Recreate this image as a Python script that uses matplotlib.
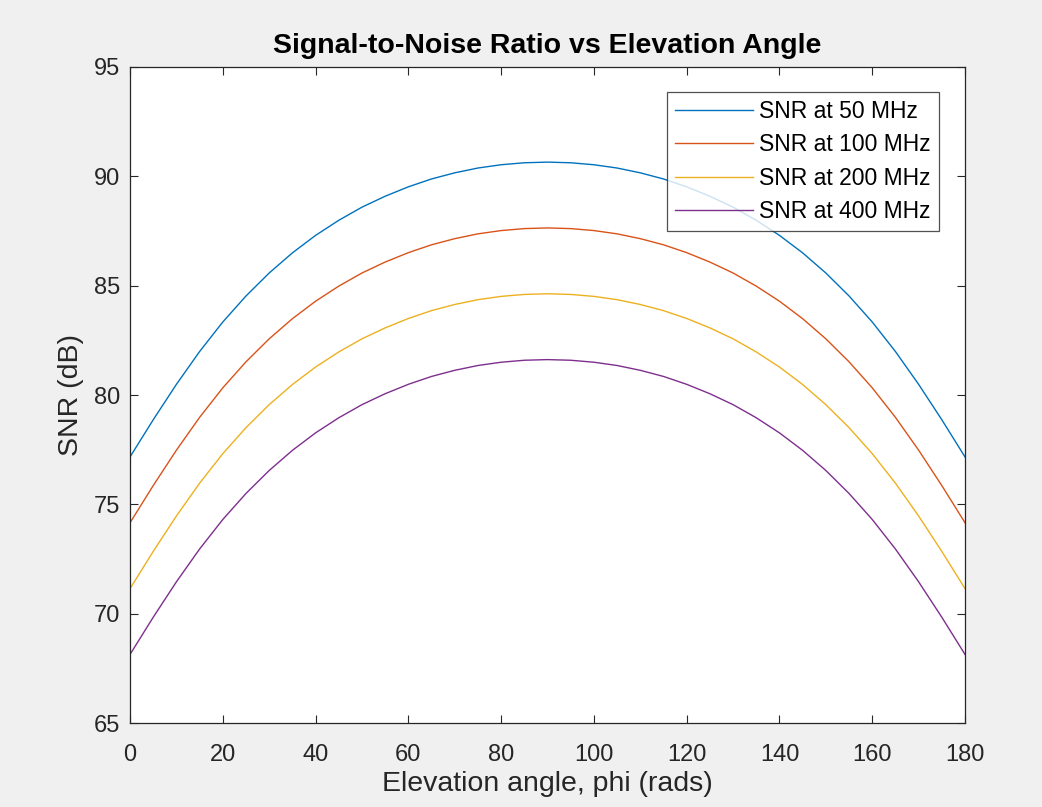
import numpy as np
import matplotlib
matplotlib.use("Agg")
import matplotlib.pyplot as plt

plt.rcParams['font.family'] = ['Liberation Sans', 'DejaVu Sans']

# Elevation angle samples (degrees)
phi = list(range(0, 181, 5))

# SNR (dB) for each carrier frequency
snr_50 = [77.17, 78.87, 80.49, 81.99, 83.34, 84.53, 85.58, 86.50, 87.30, 87.99,
          88.59, 89.09, 89.52, 89.88, 90.16, 90.38, 90.53, 90.62, 90.65,
          90.62, 90.53, 90.38, 90.16, 89.88, 89.52, 89.09, 88.59, 87.99, 87.30,
          86.50, 85.58, 84.53, 83.34, 81.99, 80.49, 78.87, 77.17]
snr_100 = [74.16, 75.86, 77.48, 78.98, 80.33, 81.52, 82.57, 83.49, 84.29, 84.98,
           85.58, 86.08, 86.51, 86.87, 87.15, 87.37, 87.52, 87.61, 87.64,
           87.61, 87.52, 87.37, 87.15, 86.87, 86.51, 86.08, 85.58, 84.98, 84.29,
           83.49, 82.57, 81.52, 80.33, 78.98, 77.48, 75.86, 74.16]
snr_200 = [71.15, 72.85, 74.47, 75.97, 77.32, 78.51, 79.56, 80.48, 81.28, 81.97,
           82.57, 83.07, 83.50, 83.86, 84.14, 84.36, 84.51, 84.60, 84.63,
           84.60, 84.51, 84.36, 84.14, 83.86, 83.50, 83.07, 82.57, 81.97, 81.28,
           80.48, 79.56, 78.51, 77.32, 75.97, 74.47, 72.85, 71.15]
snr_400 = [68.14, 69.84, 71.46, 72.96, 74.31, 75.50, 76.55, 77.47, 78.27, 78.96,
           79.56, 80.06, 80.49, 80.85, 81.13, 81.35, 81.50, 81.59, 81.62,
           81.59, 81.50, 81.35, 81.13, 80.85, 80.49, 80.06, 79.56, 78.96, 78.27,
           77.47, 76.55, 75.50, 74.31, 72.96, 71.46, 69.84, 68.14]

series = [
    ("SNR at 50 MHz", snr_50, "#0072BD"),
    ("SNR at 100 MHz", snr_100, "#D95319"),
    ("SNR at 200 MHz", snr_200, "#EDB120"),
    ("SNR at 400 MHz", snr_400, "#7E2F8E"),
]

x_ticks = list(range(0, 181, 20))
y_ticks = list(range(65, 96, 5))

fig = plt.figure(figsize=(10.42, 8.07), dpi=100, facecolor="#f0f0f0")
ax = fig.add_axes([0.1248, 0.104, 0.8013, 0.813])
ax.set_facecolor("white")

for label, vals, color in series:
    ax.plot(phi, vals, color=color, linewidth=1.0, label=label)

ax.set_xlim(0, 180)
ax.set_ylim(65, 95)
ax.set_xticks(x_ticks)
ax.set_yticks(y_ticks)
ax.tick_params(direction="in", top=True, right=True, length=6, width=0.8,
               labelsize=17, colors="#262626")
ax.tick_params(axis="x", pad=15)
ax.tick_params(axis="y", pad=7)
for sp in ax.spines.values():
    sp.set_color("#262626")
    sp.set_linewidth(0.9)

ax.set_title("Signal-to-Noise Ratio vs Elevation Angle", fontsize=20.5,
             fontweight="bold", color="black", pad=10)
ax.set_xlabel("Elevation angle, phi (rads)", fontsize=20.5, color="#262626", labelpad=4)
ax.set_ylabel("SNR (dB)", fontsize=20.5, color="#262626", labelpad=7)

leg = ax.legend(loc="upper right", bbox_to_anchor=(0.969, 0.962), fontsize=16.5,
                frameon=True, fancybox=False, edgecolor="#262626",
                handlelength=3.4, handletextpad=0.28, borderpad=0.35,
                labelspacing=0.45, borderaxespad=0)
leg.get_frame().set_linewidth(0.9)

fig.savefig("out.png", dpi=100, facecolor=fig.get_facecolor())
